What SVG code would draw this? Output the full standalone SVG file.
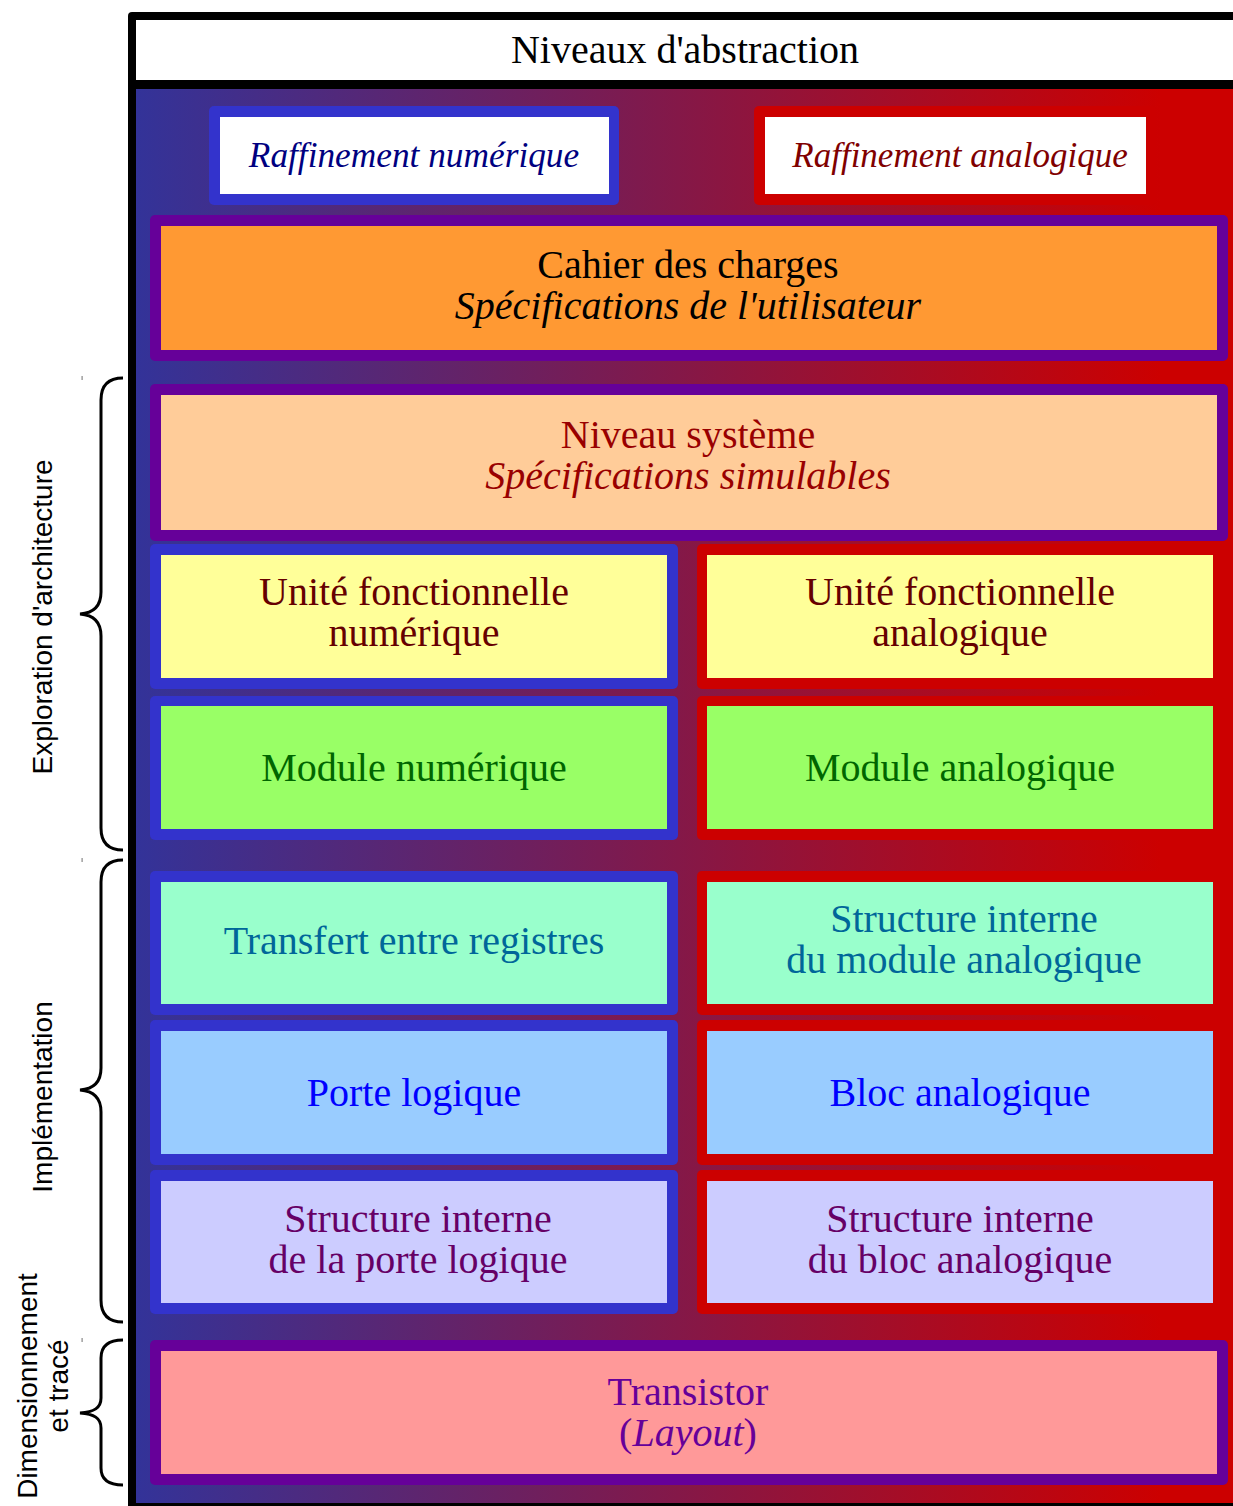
<svg xmlns="http://www.w3.org/2000/svg" width="1233" height="1506" viewBox="0 0 1233 1506">
<defs>
<linearGradient id="bg" gradientUnits="userSpaceOnUse" x1="136" y1="0" x2="1160" y2="0">
<stop offset="0" stop-color="#333399"/>
<stop offset="1" stop-color="#cc0000"/>
</linearGradient>
<style>
.t{font-family:"Liberation Serif","Times New Roman",serif;font-size:40px;text-anchor:middle}
.i{font-style:italic}
.s{font-family:"Liberation Sans",Arial,sans-serif;font-size:28px;text-anchor:middle;fill:#000}
.brace{fill:none;stroke:#000;stroke-width:3}
.bl{fill:#3333cc}
.rd{fill:#cc0000}
.pu{fill:#660099}
</style>
</defs>
<rect width="1233" height="1506" fill="#fff"/>
<g id="frame">
<rect x="128" y="12" width="1120" height="1500" rx="4" fill="#000"/>
<rect x="136" y="20" width="1097" height="60" fill="#fff"/>
<rect x="136" y="89" width="1097" height="1414" fill="url(#bg)"/>
<text class="t" x="685" y="63" fill="#000">Niveaux d'abstraction</text>
</g>
<g id="raff-num">
<rect class="bl" x="209" y="106" width="410" height="99" rx="5"/>
<rect x="220" y="117" width="389" height="77" fill="#fff"/>
<text class="t i" x="414" y="167" style="font-size:35.3px" fill="#000080">Raffinement numérique</text>
</g>
<g id="raff-ana">
<rect class="rd" x="754" y="106" width="402" height="99" rx="5"/>
<rect x="765" y="117" width="381" height="77" fill="#fff"/>
<text class="t i" x="960" y="167" style="font-size:35px" fill="#800000">Raffinement analogique</text>
</g>
<g id="cahier">
<rect class="pu" x="150" y="215" width="1078" height="146" rx="5"/>
<rect x="161" y="226" width="1056" height="124" fill="#ff9933"/>
<text class="t" x="688" y="278" fill="#000">Cahier des charges</text>
<text class="t i" x="688" y="319" fill="#000">Spécifications de l'utilisateur</text>
</g>
<g id="systeme">
<rect class="pu" x="150" y="384" width="1078" height="157" rx="5"/>
<rect x="161" y="395" width="1056" height="135" fill="#ffcc99"/>
<text class="t" x="688" y="448" fill="#990000">Niveau système</text>
<text class="t i" x="688" y="489" fill="#990000">Spécifications simulables</text>
</g>
<g id="unite-num">
<rect class="bl" x="150" y="544" width="528" height="145" rx="5"/>
<rect x="161" y="555" width="506" height="123" fill="#ffff99"/>
<text class="t" x="414" y="605" fill="#660000">Unité fonctionnelle</text>
<text class="t" x="414" y="646" fill="#660000">numérique</text>
</g>
<g id="unite-ana">
<rect class="rd" x="697" y="544" width="527" height="145" rx="5"/>
<rect x="707" y="555" width="506" height="123" fill="#ffff99"/>
<text class="t" x="960" y="605" fill="#660000">Unité fonctionnelle</text>
<text class="t" x="960" y="646" fill="#660000">analogique</text>
</g>
<g id="module-num">
<rect class="bl" x="150" y="696" width="528" height="144" rx="5"/>
<rect x="161" y="706" width="506" height="123" fill="#99ff66"/>
<text class="t" x="414" y="781" fill="#006600">Module numérique</text>
</g>
<g id="module-ana">
<rect class="rd" x="697" y="696" width="527" height="144" rx="5"/>
<rect x="707" y="706" width="506" height="123" fill="#99ff66"/>
<text class="t" x="960" y="781" fill="#006600">Module analogique</text>
</g>
<g id="rtl">
<rect class="bl" x="150" y="871" width="528" height="144" rx="5"/>
<rect x="161" y="882" width="506" height="122" fill="#99ffcc"/>
<text class="t" x="414" y="954" fill="#006699">Transfert entre registres</text>
</g>
<g id="struct-module-ana">
<rect class="rd" x="697" y="871" width="527" height="144" rx="5"/>
<rect x="707" y="882" width="506" height="122" fill="#99ffcc"/>
<text class="t" x="964" y="932" fill="#006699">Structure interne</text>
<text class="t" x="964" y="973" fill="#006699">du module analogique</text>
</g>
<g id="porte">
<rect class="bl" x="150" y="1020" width="528" height="145" rx="5"/>
<rect x="161" y="1031" width="506" height="123" fill="#99ccff"/>
<text class="t" x="414" y="1106" fill="#0000ff">Porte logique</text>
</g>
<g id="bloc">
<rect class="rd" x="697" y="1020" width="527" height="145" rx="5"/>
<rect x="707" y="1031" width="506" height="123" fill="#99ccff"/>
<text class="t" x="960" y="1106" fill="#0000ff">Bloc analogique</text>
</g>
<g id="struct-porte">
<rect class="bl" x="150" y="1170" width="528" height="144" rx="5"/>
<rect x="161" y="1181" width="506" height="122" fill="#ccccff"/>
<text class="t" x="418" y="1232" fill="#660066">Structure interne</text>
<text class="t" x="418" y="1273" fill="#660066">de la porte logique</text>
</g>
<g id="struct-bloc">
<rect class="rd" x="697" y="1170" width="527" height="144" rx="5"/>
<rect x="707" y="1181" width="506" height="122" fill="#ccccff"/>
<text class="t" x="960" y="1232" fill="#660066">Structure interne</text>
<text class="t" x="960" y="1273" fill="#660066">du bloc analogique</text>
</g>
<g id="transistor">
<rect class="pu" x="150" y="1340" width="1078" height="145" rx="5"/>
<rect x="161" y="1351" width="1056" height="123" fill="#ff9999"/>
<text class="t" x="688" y="1405" fill="#660099">Transistor</text>
<text class="t" x="688" y="1446" fill="#660099">(<tspan class="i">Layout</tspan>)</text>
</g>
<g id="braces">
<path class="brace" d="M123,378 C108,378 101,386 101,400 L101,592 C101,606 94,613 80,614 C94,615 101,622 101,636 L101,828 C101,842 108,850 123,850"/>
<path class="brace" d="M123,860 C108,860 101,868 101,882 L101,1068 C101,1082 94,1089 80,1090 C94,1091 101,1098 101,1112 L101,1300 C101,1314 108,1322 123,1322"/>
<path class="brace" d="M123,1340 C108,1340 101,1346 101,1358 L101,1398 C101,1408 94,1412 80,1413 C94,1414 101,1418 101,1428 L101,1468 C101,1479 108,1485 123,1485"/>
<rect x="81.5" y="376" width="1.2" height="4" fill="#888"/>
<rect x="81.5" y="858" width="1.2" height="4" fill="#888"/>
<rect x="81.5" y="1338" width="1.2" height="4" fill="#888"/>
</g>
<g id="labels">
<text class="s" transform="translate(52,617) rotate(-90)">Exploration d'architecture</text>
<text class="s" transform="translate(52,1097) rotate(-90)">Implémentation</text>
<text class="s" transform="translate(37,1386) rotate(-90)">Dimensionnement</text>
<text class="s" transform="translate(68,1386) rotate(-90)">et tracé</text>
</g>
</svg>
